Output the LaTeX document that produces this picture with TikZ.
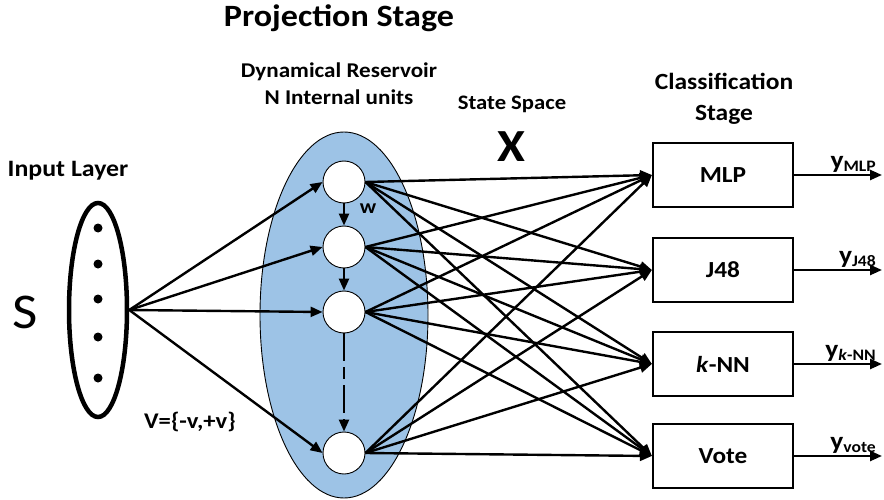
\documentclass[tikz,border=0pt]{standalone}
\usepackage{fontspec}
\setmainfont{Carlito}[FakeStretch=1.1]
\usetikzlibrary{arrows.meta,shapes.geometric}
\definecolor{resfill}{RGB}{157,195,230}
\newcommand\fsz[1]{\fontsize{#1}{#1}\selectfont}
\newcommand\ylab[1]{\textbf{\fsz{25}y\raisebox{-3pt}{\fsz{16}#1}}}
\begin{document}
\begin{tikzpicture}[x=1pt,y=-1pt,
  tip/.tip={Triangle[length=12pt,width=10pt]},
  conn/.style={line width=2.4pt,-tip},
  unit/.style={circle,draw=black,line width=0.9pt,fill=white,minimum size=42pt,inner sep=0pt},
  clf/.style={draw=black,line width=2.2pt,minimum width=140pt,minimum height=64pt,inner sep=0pt,font=\bfseries\fsz{23}},
  lbl/.style={inner sep=0pt,anchor=base,font=\bfseries\fsz{21}},
  dotnode/.style={circle,fill=black,minimum size=9pt,inner sep=0pt}
]
\useasboundingbox (0,0) rectangle (884,500);

% titles
\node[lbl,font=\bfseries\fsz{31}] (ttl) at (339,27) {Projection Stage};
\node[lbl] (dr1) at (339,78) {Dynamical Reservoir};
\node[lbl] (dr2) at (339,105) {N Internal units};
\node[lbl,font=\bfseries\fsz{20.6}] (ss) at (512,110) {State Space};
\node[lbl,font=\bfseries\fsz{46}] (xs) at (511,162) {X};
\node[lbl,font=\bfseries\fsz{23.2}] (cs1) at (724,90) {Classification};
\node[lbl,font=\bfseries\fsz{23.2}] (cs2) at (724,121) {Stage};
\node[lbl,font=\bfseries\fsz{23.5}] (il) at (68,176) {Input Layer};
\node[lbl,font=\fsz{50}] (s) at (25,328) {S};
\node[lbl,font=\bfseries\fsz{22.4}] (vv) at (190,428) {V=\{-v,+v\}};

% input layer
\node[ellipse,draw=black,line width=4.5pt,minimum width=58pt,minimum height=214pt,inner sep=0pt] (inp) at (98,310) {};
\foreach \i/\yy in {1/228,2/264,3/299,4/337,5/378}
  \node[dotnode] (d\i) at (98,\yy) {};

% reservoir
\node[ellipse,draw=black,line width=0.9pt,fill=resfill,minimum width=168pt,minimum height=366pt,inner sep=0pt] (res) at (344,315) {};

% classifiers
\node[clf] (c1) at (723,175) {MLP};
\node[clf] (c2) at (723,270) {J48};
\node[clf] (c3) at (723,364) {\textit{k}-NN};
\node[clf] (c4) at (723,456) {Vote};

% reservoir units
\node[unit] (n1) at (344,182) {};
\node[unit] (n2) at (344,247) {};
\node[unit] (n3) at (344,312) {};
\node[unit] (n4) at (344,453) {};

% readout connections
\foreach \a in {1,2,3,4}
  \foreach \b in {1,2,3,4}
    \draw[conn] (n\a.east) -- (c\b.west);

% input connections
\foreach \a in {1,2,3,4}
  \draw[conn] (inp.east) -- (n\a.west);

% recurrent links
\draw[conn] (n1.south) -- (n2.north);
\draw[conn] (n2.south) -- (n3.north);
\draw[conn,dash pattern=on 28pt off 6pt on 12pt off 6pt] (n3.south) -- (n4.north);
\node[lbl,font=\bfseries\fsz{20}] (w) at (368,214) {w};

% outputs
\foreach \b/\yy in {1/175,2/270,3/364,4/456}
  \coordinate (o\b) at (882,\yy);
\foreach \b in {1,2,3,4}
  \draw[conn] (c\b.east) -- (o\b);
\node[inner sep=0pt,anchor=base east] (y1) at (876,168) {\ylab{MLP}};
\node[inner sep=0pt,anchor=base east] (y2) at (876,263) {\ylab{J48}};
\node[inner sep=0pt,anchor=base east] (y3) at (876,357) {\ylab{\textit{k}-NN}};
\node[inner sep=0pt,anchor=base east] (y4) at (876,449) {\ylab{vote}};
\end{tikzpicture}
\end{document}
